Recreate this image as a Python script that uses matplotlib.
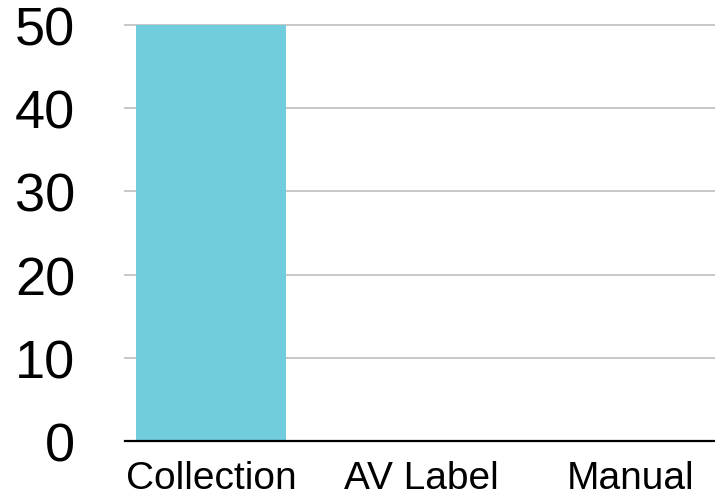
import matplotlib
matplotlib.use("Agg")
import matplotlib.pyplot as plt

categories = ["Collection", "AV Label", "Manual"]
values = [50, 0, 0]
y_ticks = [0, 10, 20, 30, 40, 50]

plt.rcParams["font.family"] = ["Liberation Sans", "DejaVu Sans"]

fig = plt.figure(figsize=(7.15, 5.02), dpi=100)
ax = fig.add_axes([125 / 715, 60 / 502, 1 - 125 / 715, 416 / 502])

x = list(range(len(categories)))
ax.bar(x, values, width=150 / 210, color="#71CDDD", zorder=3)

ax.set_xlim((125 - 211) / 210, (715 - 211) / 210)
ax.set_ylim(0, 50)
ax.set_yticks(y_ticks)
ax.set_yticklabels([str(v) for v in y_ticks])
ax.set_xticks(x)
ax.set_xticklabels(categories)

for v in y_ticks[1:]:
    ax.axhline(v, color="#BEBEBE", linewidth=1.2, zorder=1, clip_on=False)
ax.axhline(0, color="black", linewidth=1.6, zorder=4, clip_on=False)

for side in ["top", "right", "left", "bottom"]:
    ax.spines[side].set_visible(False)

ax.tick_params(axis="y", length=0, pad=36, labelsize=39)
ax.tick_params(axis="x", length=0, pad=14, labelsize=28)

fig.savefig("out.png", dpi=100)
